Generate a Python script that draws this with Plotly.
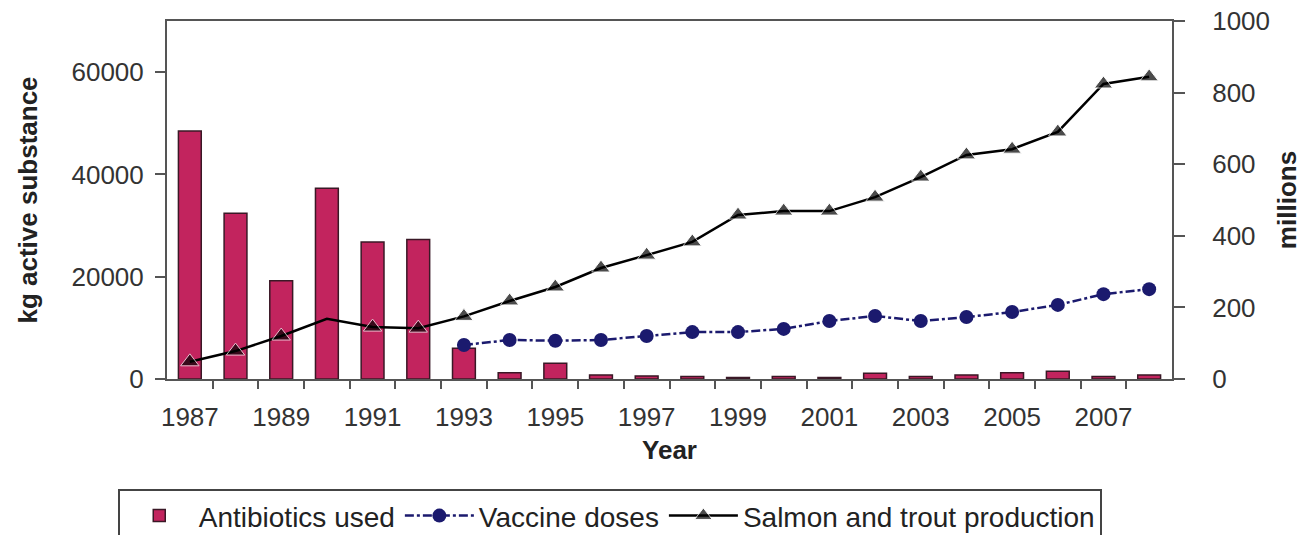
import plotly.graph_objects as go

years = list(range(1987, 2009))
antibiotics_kg = [48500, 32400, 19200, 37300, 26800, 27300, 6000, 1200, 3100, 800,
                  600, 500, 300, 500, 300, 1100, 500, 800, 1200, 1500, 500, 800]
vaccine_years = list(range(1993, 2009))
vaccine_doses = [95, 109, 107, 109, 120, 131, 131, 140, 162, 176, 162, 173, 187, 207, 237, 251]
production = [48, 78, 120, 168, 145, 142, 175, 218, 257, 310, 346, 383, 458, 469, 469,
              508, 564, 626, 642, 690, 824, 844]
tick_years = list(range(1987, 2009, 2))
left_ticks = [0, 20000, 40000, 60000]
right_ticks = [0, 200, 400, 600, 800, 1000]

FONT = "Liberation Sans, Arial, sans-serif"
AX = "#333333"

fig = go.Figure()
fig.add_trace(go.Bar(
    x=years, y=antibiotics_kg, name="Antibiotics used", width=0.5,
    marker=dict(color="#c2245e", line=dict(color="#3a1826", width=1.5)),
))
fig.add_trace(go.Scatter(
    x=vaccine_years, y=vaccine_doses, name="Vaccine doses", yaxis="y2",
    mode="lines+markers",
    line=dict(color="#1b1a6e", width=2.5, dash="dashdot"),
    marker=dict(symbol="circle", size=14, color="#1b1a6e"),
))
sizes = [0 if y == 1990 else 16 for y in years]
fig.add_trace(go.Scatter(
    x=years, y=production, name="Salmon and trout production", yaxis="y2",
    mode="lines+markers",
    line=dict(color="black", width=2.5),
    marker=dict(symbol="triangle-up", size=sizes, color="black"),
))

fig.update_layout(
    width=1302, height=535,
    margin=dict(l=167, r=130, t=21, b=156, autoexpand=False),
    paper_bgcolor="white", plot_bgcolor="white",
    font=dict(family=FONT, size=26, color=AX),
    showlegend=True,
    legend=dict(
        orientation="h", x=-0.049, y=-0.307, xanchor="left", yanchor="top",
        bordercolor="#444444", borderwidth=2,
        font=dict(size=28, color="#222222"),
        traceorder="normal", itemwidth=69,
    ),
    xaxis=dict(
        range=[1986.5, 2008.5], tickmode="array", tickvals=tick_years,
        ticktext=[str(y) for y in tick_years], ticks="", ticklen=0,
        ticklabelstandoff=14,
        showline=True, linecolor="#555555", linewidth=2, mirror=True,
        showgrid=False, zeroline=False, automargin=False,
        tickfont=dict(size=26, color=AX),
        minor=dict(tickmode="array", tickvals=[y + 0.5 for y in years[:-1]],
                   ticks="outside", ticklen=8, tickcolor="#555555", tickwidth=2,
                   showgrid=False),
        title=dict(text="<b>Year</b>", font=dict(size=26, color="#222222"), standoff=10),
    ),
    yaxis=dict(
        range=[0, 70000], tickmode="array", tickvals=left_ticks,
        ticktext=[str(v) for v in left_ticks],
        ticks="outside", ticklen=10, tickwidth=2, tickcolor="#555555",
        ticklabelstandoff=6,
        showline=True, linecolor="#555555", linewidth=2,
        showgrid=False, zeroline=False, automargin=False,
        tickfont=dict(size=26, color=AX),
        title=dict(text="<b>kg active substance</b>", font=dict(size=26, color="#222222"), standoff=26),
    ),
    yaxis2=dict(
        overlaying="y", side="right", range=[0, 1000],
        tickmode="array", tickvals=right_ticks, ticktext=[str(v) for v in right_ticks],
        ticks="outside", ticklen=11, tickwidth=2, tickcolor="#555555",
        ticklabelstandoff=22,
        showline=True, linecolor="#555555", linewidth=2,
        showgrid=False, zeroline=False, automargin=False,
        tickfont=dict(size=26, color=AX),
        title=dict(text="<b>millions</b>", font=dict(size=26, color="#222222"), standoff=18),
    ),
)

fig.write_html("out.html", config={"displayModeBar": False},
               post_script="document.body.style.margin='0';document.body.style.overflow='hidden';")
